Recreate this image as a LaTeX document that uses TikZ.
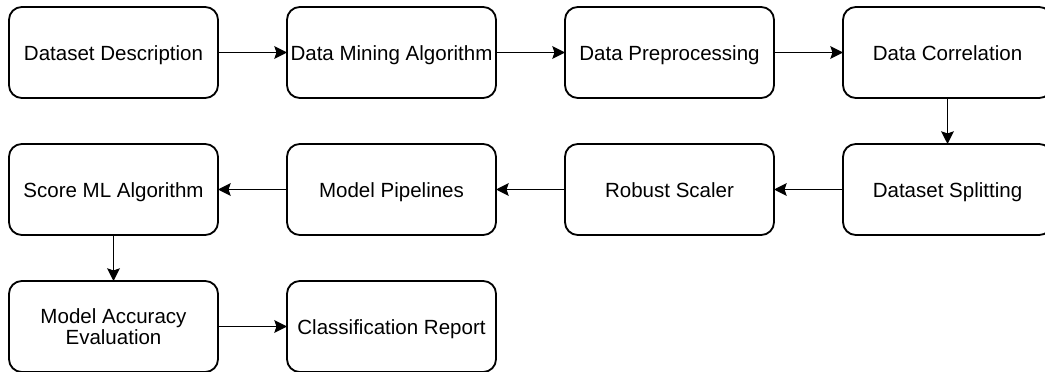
\documentclass[tikz,border=0pt]{standalone}
\usepackage{fontspec}
\setmainfont{Liberation Sans}
\usetikzlibrary{positioning}
\usetikzlibrary{arrows.meta}

\tikzset{
    stage/.style={draw, line width=1.3pt, rounded corners=0.32cm, minimum width=5.225cm, minimum height=2.275cm, inner sep=0pt, outer sep=0pt, align=center, text height=12pt, text depth=0pt, font=\fontsize{14.6}{15.4}\selectfont},
    flow/.style={-{Stealth[length=9pt, width=9pt, inset=1.5pt]}, line width=1.3pt}
}

\begin{document}
\begin{tikzpicture}
    \useasboundingbox (0,0) rectangle (26.125,-9.3);

    % first row
    \node[stage] (desc) at (2.8375,-1.3125) {Dataset Description};
    \node[stage, right=1.725cm of desc] (mining) {Data Mining Algorithm};
    \node[stage, right=1.725cm of mining] (prep) {Data Preprocessing};
    \node[stage, right=1.725cm of prep] (corr) {Data Correlation};

    % second row
    \node[stage, below=1.15cm of corr] (split) {Dataset Splitting};
    \node[stage, below=1.15cm of prep] (scaler) {Robust Scaler};
    \node[stage, below=1.15cm of mining] (pipe) {Model Pipelines};
    \node[stage, below=1.15cm of desc] (score) {Score ML Algorithm};

    % third row
    \node[stage, text height=, text depth=, below=1.15cm of score] (eval) {Model Accuracy\\Evaluation};
    \node[stage, below=1.15cm of pipe] (report) {Classification Report};

    \draw[flow] (desc) -- (mining);
    \draw[flow] (mining) -- (prep);
    \draw[flow] (prep) -- (corr);
    \draw[flow] (corr) -- (split);
    \draw[flow] (split) -- (scaler);
    \draw[flow] (scaler) -- (pipe);
    \draw[flow] (pipe) -- (score);
    \draw[flow] (score) -- (eval);
    \draw[flow] (eval) -- (report);
\end{tikzpicture}
\end{document}
